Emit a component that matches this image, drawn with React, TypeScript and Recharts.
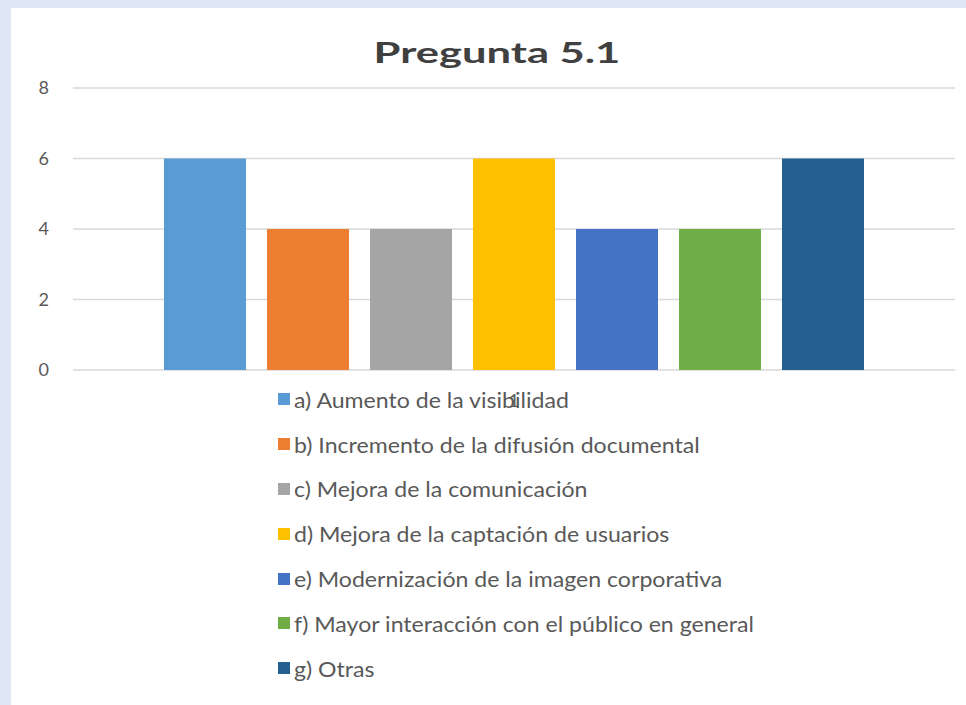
import { BarChart, Bar, XAxis, YAxis, CartesianGrid } from "recharts";

const categories = ["1"];
const seriesNames = [
  "a) Aumento de la visibilidad",
  "b) Incremento de la difusión documental",
  "c) Mejora de la comunicación",
  "d) Mejora de la captación de usuarios",
  "e) Modernización de la imagen corporativa",
  "f) Mayor interacción con el público en general",
  "g) Otras",
];
const seriesValues = [6, 4, 4, 6, 4, 4, 6];
const seriesColors = ["#5B9BD5", "#ED7D31", "#A5A5A5", "#FFC000", "#4472C4", "#70AD47", "#255E91"];
const yTicks = [0, 2, 4, 6, 8];

const FONT = "Lato, 'Open Sans', sans-serif";
const TEXT = "#595959";

const data = categories.map((cat) => {
  const row: Record<string, string | number> = { cat };
  seriesNames.forEach((name, i) => {
    row[`s${i}`] = seriesValues[i];
  });
  return row;
});

export default function App() {
  return (
    <div
      style={{
        position: "absolute",
        left: 0,
        top: 0,
        width: 966,
        height: 705,
        background: "#DDE8F4",
        overflow: "hidden",
        fontFamily: FONT,
      }}
    >
      <div
        style={{
          position: "absolute",
          left: 11,
          top: 8,
          width: 955,
          height: 697,
          background: "#ffffff",
        }}
      >
        <div
          style={{
            position: "absolute",
            left: 0,
            width: 972,
            top: 26,
            textAlign: "center",
            fontSize: 29,
            fontWeight: 700,
            color: "#404040",
            lineHeight: "36px",
            transform: "scaleX(1.5)",
            transformOrigin: "486px 0",
          }}
        >
          Pregunta 5.1
        </div>
        <BarChart
          width={955}
          height={697}
          data={data}
          margin={{ top: 80, right: 11, bottom: 305, left: 20 }}
          barSize={82}
          barGap={21}
        >
          <CartesianGrid horizontal vertical={false} stroke="#D9D9D9" strokeWidth={1.5} />
          <XAxis
            dataKey="cat"
            axisLine={false}
            tickLine={false}
            tickSize={0}
            tickMargin={24}
            height={30}
            tick={{ fill: TEXT, fontSize: 18, fontFamily: FONT }}
          />
          <YAxis
            domain={[0, 8]}
            ticks={yTicks}
            width={42}
            axisLine={false}
            tickLine={false}
            tickSize={0}
            tickMargin={24}
            tick={{ fill: TEXT, fontSize: 18, fontFamily: FONT }}
          />
          {seriesNames.map((name, i) => (
            <Bar
              key={name}
              dataKey={`s${i}`}
              name={name}
              fill={seriesColors[i]}
              isAnimationActive={false}
            />
          ))}
        </BarChart>
        <div style={{ position: "absolute", left: 267, top: 369 }}>
          {seriesNames.map((name, i) => (
            <div
              key={name}
              style={{
                display: "flex",
                alignItems: "center",
                height: 44.8,
                fontSize: 21,
                color: TEXT,
                whiteSpace: "nowrap",
              }}
            >
              <span
                style={{
                  display: "inline-block",
                  width: 12,
                  height: 12,
                  background: seriesColors[i],
                  marginRight: 4,
                }}
              />
              <span style={{ display: "inline-block", transform: "scaleX(1.1)", transformOrigin: "0 50%" }}>
                {name}
              </span>
            </div>
          ))}
        </div>
      </div>
    </div>
  );
}
